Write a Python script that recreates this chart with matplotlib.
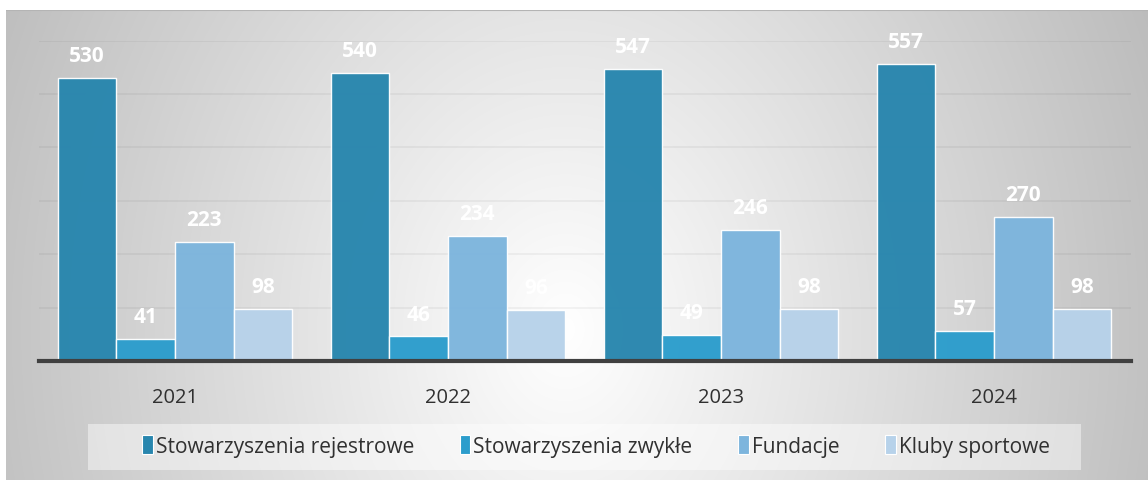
import numpy as np
import matplotlib
matplotlib.use("Agg")
import matplotlib.pyplot as plt
from matplotlib.patches import Rectangle, Patch

plt.rcParams['font.family'] = ['Open Sans', 'DejaVu Sans']

years = ["2021", "2022", "2023", "2024"]
series_names = ["Stowarzyszenia rejestrowe", "Stowarzyszenia zwykłe", "Fundacje", "Kluby sportowe"]
rejestrowe = [530, 540, 547, 557]
zwykle = [41, 46, 49, 57]
fundacje = [223, 234, 246, 270]
kluby = [98, 96, 98, 98]
series = [rejestrowe, zwykle, fundacje, kluby]
colors = ["#2886ae", "#2c9dcc", "#7db5dd", "#b7d2ea"]

W, H = 1148, 481
fig = plt.figure(figsize=(W / 100, H / 100), dpi=100)
fig.patch.set_facecolor("white")

# radial gradient background
bg = fig.add_axes([6 / W, 0, 1 - 6 / W, 1 - 11 / H])
bg.set_axis_off()
yy, xx = np.mgrid[11:481, 6:1148]
r = np.sqrt(((xx - 565) / 560.0) ** 2 + ((yy - 330) / 700.0) ** 2)
v = np.clip(1.0 - 0.23 * r, 0, 1)
img = np.dstack([v, v, v])
bg.imshow(img, aspect="auto", extent=[0, 1, 0, 1], origin="upper")
bg.set_xlim(0, 1)
bg.set_ylim(0, 1)
bg.axhline(1, color="#b4b4b4", lw=1.5)

# legend panel
fig.patches.append(Rectangle((88 / W, 1 - 471 / H), (1081 - 88) / W, 46 / H,
                             transform=fig.transFigure, facecolor="white",
                             alpha=0.45, edgecolor="none", zorder=1))

ax = fig.add_axes([38.5 / W, (481 - 362) / H, 1092 / W, (362 - 41.6) / H])
ax.set_facecolor("none")
x = np.arange(len(years))
bw = 0.2143
for i, (vals, c) in enumerate(zip(series, colors)):
    pos = x + (i - 1.5) * bw
    ax.bar(pos, vals, bw, color=c, alpha=0.97, edgecolor=(1, 1, 1, 0.5),
           linewidth=1, zorder=3)
    for p, val in zip(pos, vals):
        ax.annotate(str(val), (p, val), xytext=(0, 16), textcoords="offset points",
                    ha="center", va="center", color="white", fontsize=15,
                    fontweight="bold", zorder=5, annotation_clip=False)

ax.set_xlim(-0.5, 3.5)
ax.set_ylim(0, 600)
ax.set_yticks([100, 200, 300, 400, 500, 600])
ax.yaxis.grid(True, color="#000000", alpha=0.045, linewidth=1.5, zorder=0)
ax.set_axisbelow(True)
ax.tick_params(axis="y", left=False, labelleft=False)
ax.set_xticks(x)
ax.set_xticklabels(years, fontsize=14.5, color="#303030")
ax.tick_params(axis="x", length=0, pad=19)
for s in ["top", "right", "left"]:
    ax.spines[s].set_visible(False)
ax.spines["bottom"].set_color("#404040")
ax.spines["bottom"].set_linewidth(3)
ax.spines["bottom"].set_zorder(6)

handles = [Patch(facecolor=c, edgecolor="white", linewidth=0.8) for c in colors]
leg = fig.legend(handles, series_names, loc="center", bbox_to_anchor=(596 / W, 1 - 447 / H),
                 ncol=4, frameon=False, fontsize=15, handlelength=0.5, handleheight=1.0,
                 handletextpad=0.15, columnspacing=2.2, labelcolor="#303030")

fig.savefig("out.png", dpi=100)
